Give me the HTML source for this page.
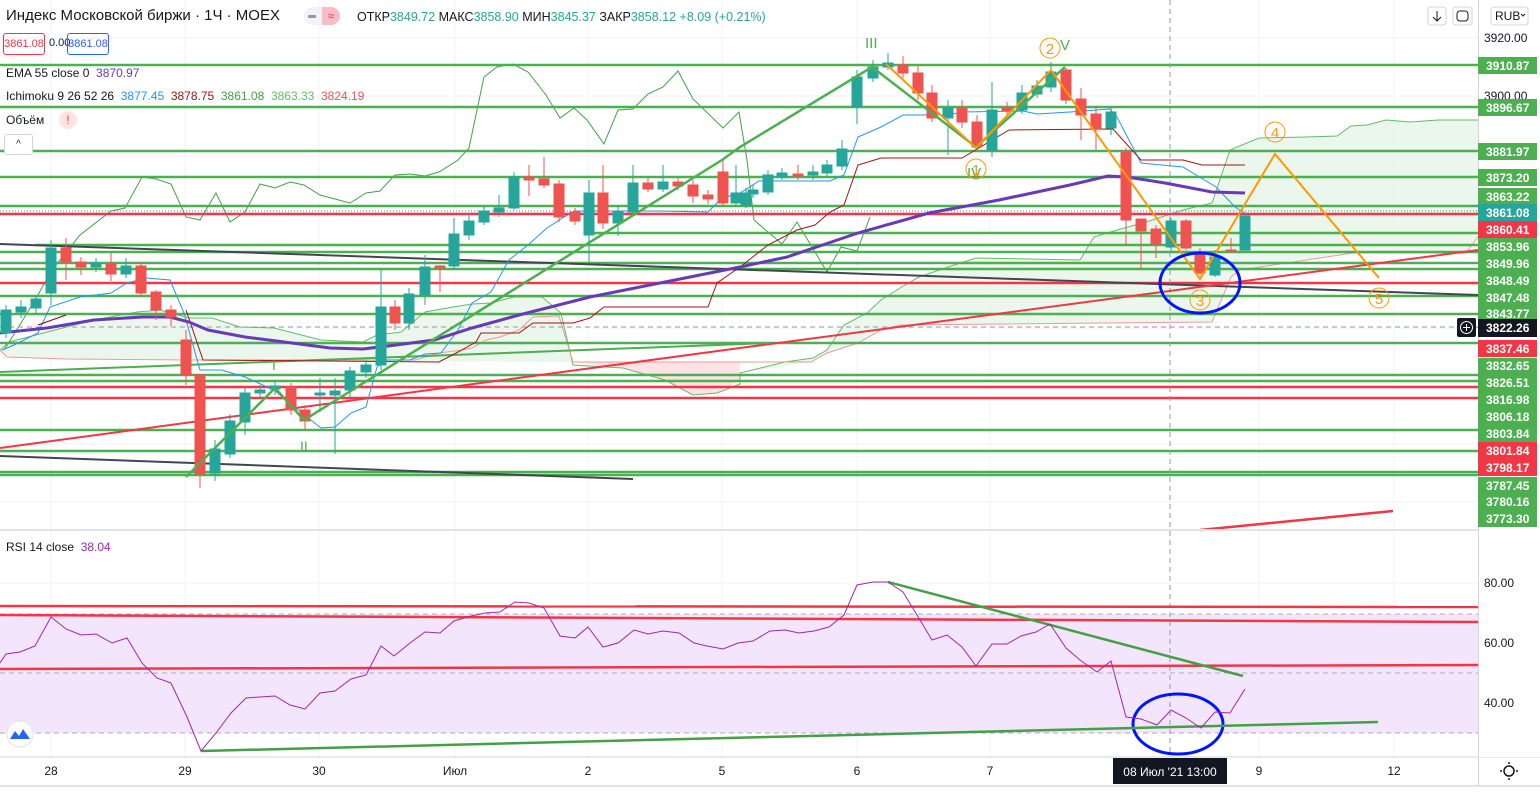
<!DOCTYPE html>
<html><head><meta charset="utf-8"><style>
body{margin:0;background:#fff;width:1540px;height:794px;overflow:hidden;font-family:"Liberation Sans",sans-serif}
svg{position:absolute;left:0;top:0}
.t{font-family:"Liberation Sans",sans-serif}
</style></head><body>
<svg width="1540" height="794" xmlns="http://www.w3.org/2000/svg">
<g stroke="#f0f3fa" stroke-width="1">
<line x1="51" y1="0" x2="51" y2="757"/><line x1="185" y1="0" x2="185" y2="757"/><line x1="319" y1="0" x2="319" y2="757"/><line x1="455" y1="0" x2="455" y2="757"/><line x1="588" y1="0" x2="588" y2="757"/><line x1="722" y1="0" x2="722" y2="757"/><line x1="857" y1="0" x2="857" y2="757"/><line x1="990" y1="0" x2="990" y2="757"/><line x1="1259" y1="0" x2="1259" y2="757"/><line x1="1394" y1="0" x2="1394" y2="757"/>
<line x1="0" y1="38" x2="1478" y2="38"/><line x1="0" y1="96" x2="1478" y2="96"/><line x1="0" y1="154" x2="1478" y2="154"/><line x1="0" y1="212" x2="1478" y2="212"/><line x1="0" y1="270" x2="1478" y2="270"/><line x1="0" y1="328" x2="1478" y2="328"/><line x1="0" y1="386" x2="1478" y2="386"/><line x1="0" y1="444" x2="1478" y2="444"/><line x1="0" y1="502" x2="1478" y2="502"/>
<line x1="0" y1="583" x2="1478" y2="583"/><line x1="0" y1="643" x2="1478" y2="643"/><line x1="0" y1="703" x2="1478" y2="703"/>
</g>
<rect x="0" y="614" width="1478" height="119" fill="#f3e6fc"/>
<g stroke="#b5a8bd" stroke-dasharray="5,4" stroke-width="1"><line x1="0" y1="614" x2="1478" y2="614"/><line x1="0" y1="673" x2="1478" y2="673"/><line x1="0" y1="733" x2="1478" y2="733"/></g>
<polygon fill="#e8f5e9" fill-opacity="0.85" points="0,350 9,342 47,332 94,320 137,312 160,310 189,318 212,318 240,327 274,328 321,340 363,342 377,335 401,332 425,312 453,307 472,304 491,303 514,297 542,297 561,313 573,362 189,360 66,359 7,357"/>
<polygon fill="#fde3e4" points="573,362 623,368 665,380 693,395 717,393 740,380 740,362"/>
<polygon fill="#e8f5e9" fill-opacity="0.85" points="740,373 785,362 813,358 827,350 844,325 867,313 881,300 900,288 919,277 948,267 976,258 1080,260 1094,237 1117,230 1146,222 1183,210 1212,203 1230,150 1259,138 1306,137 1337,136 1351,126 1367,125 1386,120 1410,122 1438,120 1478,120 1478,237 1466,253 1353,253 1240,270 1231,277 1212,322 900,325 881,330 858,343 827,353 811,362"/>
<polyline fill="none" stroke="#66bb6a" stroke-width="1" points="0,350 9,342 47,332 94,320 137,312 160,310 189,318 212,318 240,327 274,328 321,340 363,342 377,335 401,332 425,312 453,307 472,304 491,303 514,297 542,297 561,313 573,365 623,368 665,380 693,395 717,393 740,384 740,373 785,362 813,358 827,350 844,325 867,313 881,300 900,288 919,277 948,267 976,258 1080,260 1094,237 1117,230 1146,222 1183,210 1212,203 1230,150 1259,138 1306,137 1337,136 1351,126 1367,125 1386,120 1410,122 1438,120 1478,120"/>
<polyline fill="none" stroke="#ef9a9a" stroke-width="1" points="0,350 7,357 66,359 189,360 415,360 439,353 462,350 472,348 486,340 500,337 519,330 533,317 559,316 573,362 740,362 811,362 827,353 858,343 881,330 900,325 1212,322 1231,277 1240,270 1353,253 1466,253 1478,237"/>
<polyline fill="none" stroke="#43a047" stroke-width="1" points="4,350 21,323 35,300 52,270 80,235 111,211 125,208 142,177 156,179 171,184 186,217 200,220 216,193 230,222 245,212 260,184 275,188 290,182 304,185 320,195 350,203 366,193 380,191 395,175 410,174 425,176 439,172 458,160 469,148 484,77 497,67 513,64 528,72 546,95 560,118 574,108 587,120 604,144 618,110 633,109 648,94 663,87 678,71 693,99 723,128 739,112 747,160 754,220 782,244 797,222 827,272 841,247 857,251 870,217"/>
<g stroke="#4caf50" stroke-width="2.5">
<line x1="0" y1="65" x2="1478" y2="65"/><line x1="0" y1="107" x2="1478" y2="107"/><line x1="0" y1="151" x2="1478" y2="151"/><line x1="0" y1="177" x2="1478" y2="177"/><line x1="0" y1="206" x2="1478" y2="206"/><line x1="587" y1="233" x2="1478" y2="233"/><line x1="35" y1="245" x2="1478" y2="245"/><line x1="0" y1="252" x2="1478" y2="252"/><line x1="0" y1="263" x2="1478" y2="263"/><line x1="0" y1="269" x2="1478" y2="269"/><line x1="0" y1="296" x2="1478" y2="296"/><line x1="0" y1="314" x2="1478" y2="314"/><line x1="0" y1="343" x2="1478" y2="343"/><line x1="0" y1="375" x2="1478" y2="375"/><line x1="0" y1="381" x2="1478" y2="381"/><line x1="0" y1="430" x2="1478" y2="430"/><line x1="0" y1="451" x2="1478" y2="451"/><line x1="0" y1="472" x2="1478" y2="472"/><line x1="0" y1="475" x2="1478" y2="475"/>
</g>
<g stroke="#f23645" stroke-width="2.5">
<line x1="0" y1="214" x2="1478" y2="214"/><line x1="0" y1="283" x2="1478" y2="283"/><line x1="0" y1="387" x2="1478" y2="387"/><line x1="0" y1="398" x2="1478" y2="398"/>
</g>
<line x1="0" y1="211" x2="1478" y2="211" stroke="#26a69a" stroke-dasharray="1,2"/>
<line x1="0" y1="327" x2="1478" y2="327" stroke="#9598a1" stroke-dasharray="5,4"/>
<line x1="1170" y1="0" x2="1170" y2="757" stroke="#9598a1" stroke-dasharray="5,4"/>
<line x1="0" y1="244" x2="1478" y2="295" stroke="#434651" stroke-width="2"/>
<line x1="0" y1="456" x2="633" y2="479" stroke="#434651" stroke-width="2"/>
<polyline fill="none" stroke="#f23645" stroke-width="2" points="0,448 740,348 1478,250"/>
<line x1="0" y1="372" x2="770" y2="343" stroke="#4caf50" stroke-width="2"/>
<polyline fill="none" stroke="#2196f3" stroke-width="1" points="2,350 14,345 38,333 50,307 80,297 111,293 127,283 146,278 170,280 184,313 200,370 222,370 245,377 274,390 292,405 321,428 335,427 351,413 366,407 377,367 387,360 410,360 425,354 441,353 458,330 472,303 491,292 509,260 528,245 547,228 564,217 575,211 660,211 708,212 722,198 740,193 759,181 830,181 844,175 858,137 881,127 903,115 948,115 962,112 1023,111 1037,114 1070,112 1110,109 1117,117 1141,163 1183,167 1216,187 1235,207 1245,213"/>
<polyline fill="none" stroke="#8b0000" stroke-width="1" points="38,325 66,315"/>
<polyline fill="none" stroke="#a31515" stroke-width="1" points="186,310 203,360 439,362 458,352 476,342 481,333 519,333 533,323 573,323 590,318 604,307 708,307 717,283 740,267 768,245 797,230 815,225 830,212 844,205 858,165 881,158 962,158 1009,130 1113,129 1141,160 1183,160 1202,165 1245,165"/>
<polyline fill="none" stroke="#673ab7" stroke-width="3" points="0,333 47,328 94,320 142,317 170,317 189,322 208,330 245,337 292,343 330,348 363,349 396,345 434,340 472,328 519,315 590,297 660,283 740,267 787,257 858,233 929,213 999,200 1070,185 1108,176 1127,177 1165,183 1212,192 1245,193"/>
<g stroke-width="1">
<g stroke="#26a69a" fill="#26a69a">
<line x1="6" y1="305" x2="6" y2="338"/><rect x="1" y="310" width="10" height="23"/>
<line x1="21" y1="300" x2="21" y2="318"/><rect x="16" y="307" width="10" height="5"/>
<line x1="36" y1="295" x2="36" y2="313"/><rect x="31" y="299" width="10" height="9"/>
<line x1="51" y1="240" x2="51" y2="305"/><rect x="46" y="248" width="10" height="45"/>
<line x1="96" y1="258" x2="96" y2="272"/><rect x="91" y="263" width="10" height="4"/>
<line x1="126" y1="258" x2="126" y2="278"/><rect x="121" y="266" width="10" height="8"/>
<line x1="215" y1="440" x2="215" y2="481"/><rect x="210" y="449" width="10" height="24"/>
<line x1="230" y1="414" x2="230" y2="458"/><rect x="225" y="421" width="10" height="33"/>
<line x1="245" y1="388" x2="245" y2="435"/><rect x="240" y="393" width="10" height="29"/>
<line x1="260" y1="385" x2="260" y2="398"/><rect x="255" y="390" width="10" height="3"/>
<line x1="275" y1="380" x2="275" y2="395"/><rect x="270" y="386" width="10" height="3"/>
<line x1="320" y1="378" x2="320" y2="412"/><rect x="315" y="393" width="10" height="2"/>
<line x1="335" y1="378" x2="335" y2="454"/><rect x="330" y="391" width="10" height="4"/>
<line x1="350" y1="367" x2="350" y2="398"/><rect x="345" y="371" width="10" height="19"/>
<line x1="366" y1="360" x2="366" y2="378"/><rect x="361" y="365" width="10" height="7"/>
<line x1="381" y1="270" x2="381" y2="370"/><rect x="376" y="307" width="10" height="58"/>
<line x1="409" y1="288" x2="409" y2="330"/><rect x="404" y="294" width="10" height="29"/>
<line x1="425" y1="255" x2="425" y2="305"/><rect x="420" y="267" width="10" height="28"/>
<line x1="454" y1="218" x2="454" y2="270"/><rect x="449" y="234" width="10" height="32"/>
<line x1="469" y1="214" x2="469" y2="240"/><rect x="464" y="221" width="10" height="14"/>
<line x1="484" y1="205" x2="484" y2="225"/><rect x="479" y="211" width="10" height="11"/>
<line x1="499" y1="195" x2="499" y2="217"/><rect x="494" y="208" width="10" height="4"/>
<line x1="514" y1="172" x2="514" y2="210"/><rect x="509" y="177" width="10" height="31"/>
<line x1="589" y1="180" x2="589" y2="262"/><rect x="584" y="193" width="10" height="42"/>
<line x1="618" y1="205" x2="618" y2="236"/><rect x="613" y="211" width="10" height="12"/>
<line x1="633" y1="165" x2="633" y2="215"/><rect x="628" y="183" width="10" height="29"/>
<line x1="663" y1="165" x2="663" y2="192"/><rect x="658" y="182" width="10" height="7"/>
<line x1="736" y1="165" x2="736" y2="206"/><rect x="731" y="193" width="10" height="10"/>
<line x1="746" y1="188" x2="746" y2="208"/><rect x="741" y="193" width="10" height="12"/>
<line x1="753" y1="185" x2="753" y2="198"/><rect x="748" y="190" width="10" height="4"/>
<line x1="768" y1="170" x2="768" y2="195"/><rect x="763" y="175" width="10" height="17"/>
<line x1="782" y1="168" x2="782" y2="180"/><rect x="777" y="173" width="10" height="4"/>
<line x1="813" y1="165" x2="813" y2="180"/><rect x="808" y="172" width="10" height="3"/>
<line x1="827" y1="160" x2="827" y2="176"/><rect x="822" y="165" width="10" height="8"/>
<line x1="842" y1="140" x2="842" y2="170"/><rect x="837" y="149" width="10" height="17"/>
<line x1="857" y1="70" x2="857" y2="124"/><rect x="852" y="77" width="10" height="30"/>
<line x1="873" y1="60" x2="873" y2="82"/><rect x="868" y="67" width="10" height="11"/>
<line x1="888" y1="53" x2="888" y2="70"/><rect x="883" y="63" width="10" height="4"/>
<line x1="948" y1="100" x2="948" y2="155"/><rect x="943" y="108" width="10" height="10"/>
<line x1="992" y1="82" x2="992" y2="157"/><rect x="987" y="110" width="10" height="40"/>
<line x1="1022" y1="85" x2="1022" y2="114"/><rect x="1017" y="93" width="10" height="17"/>
<line x1="1037" y1="80" x2="1037" y2="98"/><rect x="1032" y="86" width="10" height="8"/>
<line x1="1051" y1="62" x2="1051" y2="92"/><rect x="1046" y="72" width="10" height="15"/>
<line x1="1111" y1="106" x2="1111" y2="135"/><rect x="1106" y="112" width="10" height="16"/>
<line x1="1171" y1="218" x2="1171" y2="252"/><rect x="1166" y="221" width="10" height="26"/>
<line x1="1215" y1="250" x2="1215" y2="277"/><rect x="1210" y="257" width="10" height="18"/>
<line x1="1245" y1="214" x2="1245" y2="252"/><rect x="1240" y="216" width="10" height="34"/>
</g>
<g stroke="#ef5350" fill="#ef5350">
<line x1="66" y1="238" x2="66" y2="280"/><rect x="61" y="248" width="10" height="14"/>
<line x1="81" y1="257" x2="81" y2="275"/><rect x="76" y="262" width="10" height="5"/>
<line x1="111" y1="253" x2="111" y2="281"/><rect x="106" y="264" width="10" height="10"/>
<line x1="141" y1="262" x2="141" y2="296"/><rect x="136" y="266" width="10" height="27"/>
<line x1="156" y1="290" x2="156" y2="320"/><rect x="151" y="292" width="10" height="18"/>
<line x1="171" y1="305" x2="171" y2="326"/><rect x="166" y="310" width="10" height="7"/>
<line x1="186" y1="330" x2="186" y2="385"/><rect x="181" y="340" width="10" height="35"/>
<line x1="200" y1="375" x2="200" y2="488"/><rect x="195" y="375" width="10" height="99"/>
<line x1="291" y1="383" x2="291" y2="415"/><rect x="286" y="387" width="10" height="23"/>
<line x1="305" y1="405" x2="305" y2="430"/><rect x="300" y="410" width="10" height="11"/>
<line x1="395" y1="300" x2="395" y2="330"/><rect x="390" y="307" width="10" height="16"/>
<line x1="440" y1="265" x2="440" y2="292"/><rect x="435" y="266" width="10" height="2"/>
<line x1="529" y1="165" x2="529" y2="196"/><rect x="524" y="177" width="10" height="3"/>
<line x1="544" y1="157" x2="544" y2="188"/><rect x="539" y="179" width="10" height="6"/>
<line x1="559" y1="180" x2="559" y2="222"/><rect x="554" y="184" width="10" height="33"/>
<line x1="575" y1="208" x2="575" y2="225"/><rect x="570" y="212" width="10" height="9"/>
<line x1="603" y1="165" x2="603" y2="229"/><rect x="598" y="193" width="10" height="30"/>
<line x1="648" y1="178" x2="648" y2="192"/><rect x="643" y="183" width="10" height="6"/>
<line x1="678" y1="178" x2="678" y2="190"/><rect x="673" y="182" width="10" height="4"/>
<line x1="693" y1="180" x2="693" y2="203"/><rect x="688" y="185" width="10" height="11"/>
<line x1="708" y1="190" x2="708" y2="204"/><rect x="703" y="195" width="10" height="4"/>
<line x1="723" y1="160" x2="723" y2="206"/><rect x="718" y="172" width="10" height="31"/>
<line x1="798" y1="165" x2="798" y2="180"/><rect x="793" y="174" width="10" height="2"/>
<line x1="903" y1="56" x2="903" y2="78"/><rect x="898" y="65" width="10" height="8"/>
<line x1="918" y1="66" x2="918" y2="100"/><rect x="913" y="73" width="10" height="20"/>
<line x1="932" y1="85" x2="932" y2="122"/><rect x="927" y="93" width="10" height="25"/>
<line x1="962" y1="100" x2="962" y2="128"/><rect x="957" y="108" width="10" height="14"/>
<line x1="977" y1="115" x2="977" y2="150"/><rect x="972" y="122" width="10" height="25"/>
<line x1="1007" y1="102" x2="1007" y2="115"/><rect x="1002" y="108" width="10" height="3"/>
<line x1="1066" y1="68" x2="1066" y2="104"/><rect x="1061" y="70" width="10" height="30"/>
<line x1="1081" y1="88" x2="1081" y2="140"/><rect x="1076" y="99" width="10" height="16"/>
<line x1="1096" y1="107" x2="1096" y2="150"/><rect x="1091" y="114" width="10" height="15"/>
<line x1="1126" y1="148" x2="1126" y2="246"/><rect x="1121" y="152" width="10" height="68"/>
<line x1="1141" y1="219" x2="1141" y2="268"/><rect x="1136" y="219" width="10" height="12"/>
<line x1="1156" y1="225" x2="1156" y2="258"/><rect x="1151" y="229" width="10" height="15"/>
<line x1="1186" y1="219" x2="1186" y2="250"/><rect x="1181" y="221" width="10" height="27"/>
<line x1="1200" y1="248" x2="1200" y2="275"/><rect x="1195" y="254" width="10" height="19"/>
<line x1="1231" y1="238" x2="1231" y2="252"/><rect x="1226" y="250" width="10" height="1"/>
</g>
</g>
<polyline fill="none" stroke="#4caf50" stroke-width="2.5" points="186,477 275,388 304,420 722,160 740,147 872,67 976,147 1065,67"/>
<polyline fill="none" stroke="#ff9800" stroke-width="2" points="886,64 976,148 1051,70 1200,279 1275,154 1379,278"/>
<line x1="1200" y1="530" x2="1393" y2="511" stroke="#f23645" stroke-width="2.5"/>
<g class="t" font-size="15" fill="#4caf50"><text x="865" y="48">III</text><text x="272" y="370" font-size="14">I</text><text x="300" y="451" font-size="14">II</text><text x="967" y="178">IV</text><text x="1060" y="50">V</text></g>
<g fill="none" stroke="#ff9800" stroke-width="1"><circle cx="976" cy="169" r="10"/><circle cx="1050" cy="48" r="10"/><circle cx="1275" cy="132" r="10"/><circle cx="1200" cy="300" r="10"/><circle cx="1379" cy="298" r="10"/></g>
<g class="t" font-size="15" fill="#ff9800" text-anchor="middle"><text x="976" y="175">1</text><text x="1050" y="54">2</text><text x="1275" y="138">4</text><text x="1200" y="306">3</text><text x="1379" y="304">5</text></g>
<ellipse cx="1200" cy="283" rx="40" ry="30" fill="none" stroke="#0015ff" stroke-width="3"/>
<ellipse cx="1178" cy="724" rx="45" ry="30" fill="none" stroke="#0015ff" stroke-width="3"/>
<line x1="0" y1="606" x2="1478" y2="607" stroke="#f23645" stroke-width="2.5"/>
<line x1="0" y1="615" x2="1478" y2="622" stroke="#f23645" stroke-width="2.5"/>
<line x1="0" y1="669" x2="1478" y2="665" stroke="#f23645" stroke-width="2.5"/>
<line x1="201" y1="751" x2="1378" y2="722" stroke="#43a047" stroke-width="2.5"/>
<line x1="888" y1="582" x2="1243" y2="676" stroke="#43a047" stroke-width="2.5"/>
<polyline fill="none" stroke="#9c27b0" stroke-width="1" points="0,663 6,654 20,652 35,646 51,617 66,629 81,635 96,634 112,643 127,638 142,663 157,678 171,683 187,717 201,751 216,733 231,713 246,698 260,697 275,696 290,705 305,709 320,693 335,691 351,679 366,675 381,646 394,656 410,643 425,632 440,633 454,621 471,616 485,613 500,612 515,602 529,603 544,608 560,636 575,638 588,627 603,647 618,643 634,630 648,634 663,631 679,633 694,643 707,646 723,649 738,643 753,641 770,631 785,630 799,633 814,631 829,627 844,615 857,585 873,582 888,582 903,592 917,615 932,640 947,635 962,647 976,666 992,644 1007,644 1021,636 1036,632 1050,624 1066,648 1080,660 1097,672 1111,661 1126,717 1141,719 1157,725 1171,710 1186,718 1201,728 1215,712 1230,713 1245,689"/>
<line x1="0" y1="530" x2="1540" y2="530" stroke="#e0e3eb" stroke-width="2"/>
<line x1="0" y1="757" x2="1540" y2="757" stroke="#d1d4dc"/>
<line x1="0" y1="786" x2="1540" y2="786" stroke="#e0e3eb" stroke-width="2"/>
<line x1="1478.5" y1="0" x2="1478.5" y2="786" stroke="#d1d4dc"/>
<rect x="1479" y="0" width="61" height="757" fill="#fff"/>
<g class="t" font-size="12" fill="#131722"><text x="1484" y="42">3920.00</text><text x="1484" y="100">3900.00</text><text x="1484" y="587">80.00</text><text x="1484" y="647">60.00</text><text x="1484" y="707">40.00</text></g>
<g fill="#4caf50">
<rect x="1478" y="57" width="59" height="17"/><rect x="1478" y="99" width="59" height="17"/><rect x="1478" y="143" width="59" height="17"/><rect x="1478" y="169" width="59" height="17"/><rect x="1478" y="188" width="59" height="17"/><rect x="1478" y="238" width="59" height="17"/><rect x="1478" y="255" width="59" height="17"/><rect x="1478" y="272" width="59" height="17"/><rect x="1478" y="289" width="59" height="17"/><rect x="1478" y="306" width="59" height="14"/><rect x="1478" y="358" width="59" height="17"/><rect x="1478" y="375" width="59" height="17"/><rect x="1478" y="391" width="59" height="17"/><rect x="1478" y="408" width="59" height="17"/><rect x="1478" y="425" width="59" height="17"/><rect x="1478" y="477" width="59" height="17"/><rect x="1478" y="494" width="59" height="17"/><rect x="1478" y="510" width="59" height="17"/>
</g>
<rect x="1478" y="204" width="59" height="17" fill="#26a69a"/>
<g fill="#f23645"><rect x="1478" y="221" width="59" height="17"/><rect x="1478" y="340" width="59" height="17"/><rect x="1478" y="442" width="59" height="17"/><rect x="1478" y="459" width="59" height="17"/></g>
<rect x="1478" y="319" width="59" height="18" fill="#131722"/>
<rect x="1457" y="318" width="19" height="19" rx="2" fill="#131722"/>
<circle cx="1466.5" cy="327.5" r="6" fill="none" stroke="#fff"/><path d="M1463 327.5h7M1466.5 324v7" stroke="#fff"/>
<g class="t" font-size="12" font-weight="bold" fill="#fff">
<text x="1486" y="70">3910.87</text><text x="1486" y="112">3896.67</text><text x="1486" y="156">3881.97</text><text x="1486" y="182">3873.20</text><text x="1486" y="201">3863.22</text><text x="1486" y="217">3861.08</text><text x="1486" y="234">3860.41</text><text x="1486" y="251">3853.96</text><text x="1486" y="268">3849.96</text><text x="1486" y="285">3848.49</text><text x="1486" y="302">3847.48</text><text x="1486" y="318">3843.77</text><text x="1486" y="332">3822.26</text><text x="1486" y="353">3837.46</text><text x="1486" y="370">3832.65</text><text x="1486" y="387">3826.51</text><text x="1486" y="404">3816.98</text><text x="1486" y="421">3806.18</text><text x="1486" y="438">3803.84</text><text x="1486" y="455">3801.84</text><text x="1486" y="472">3798.17</text><text x="1486" y="490">3787.45</text><text x="1486" y="506">3780.16</text><text x="1486" y="523">3773.30</text>
</g>
<g class="t" font-size="12" fill="#131722" text-anchor="middle">
<text x="51" y="775">28</text><text x="185" y="775">29</text><text x="319" y="775">30</text><text x="455" y="775">Июл</text><text x="588" y="775">2</text><text x="722" y="775">5</text><text x="857" y="775">6</text><text x="990" y="775">7</text><text x="1259" y="775">9</text><text x="1394" y="775">12</text>
</g>
<rect x="1113" y="758" width="114" height="26" fill="#131722"/>
<text x="1170" y="776" class="t" font-size="12" fill="#fff" text-anchor="middle">08 Июл '21   13:00</text>
<circle cx="1509" cy="771" r="5" fill="none" stroke="#131722" stroke-width="1.5"/>
<g stroke="#131722" stroke-width="1.5"><line x1="1509" y1="762" x2="1509" y2="764"/><line x1="1509" y1="778" x2="1509" y2="780"/><line x1="1500" y1="771" x2="1502" y2="771"/><line x1="1516" y1="771" x2="1518" y2="771"/></g>
<circle cx="20" cy="734" r="13" fill="#fff" stroke="#e0e3eb"/>
<path d="M10 739 L15 731 L19 736 L23 729 L30 739 Z" fill="#2962ff"/>
<rect x="1428" y="7" width="18" height="18" rx="3" fill="#fff" stroke="#d1d4dc"/>
<path d="M1437 11v10M1433 17l4 4 4-4" stroke="#131722" fill="none"/>
<rect x="1453" y="7" width="19" height="18" rx="3" fill="#fff" stroke="#d1d4dc"/>
<rect x="1457" y="11" width="11" height="10" rx="3" fill="none" stroke="#131722"/>
<rect x="1491" y="7" width="37" height="18" rx="3" fill="#fff" stroke="#d1d4dc"/>
<text x="1495" y="20" class="t" font-size="12" fill="#131722">RUB</text>
<path d="M1521 14l2 2 2-2" stroke="#131722" fill="none"/>
</svg>
<div style="position:absolute;left:6px;top:7px;font-size:15px;color:#131722;white-space:nowrap">Индекс Московской биржи · 1Ч · MOEX</div>
<div style="position:absolute;left:304px;top:7px;width:36px;height:18px;border-radius:9px;background:#f0f3fa"></div>
<div style="position:absolute;left:322px;top:7px;width:18px;height:18px;border-radius:0 9px 9px 0;background:#f7bcc8;color:#f23645;font-size:12px;text-align:center;line-height:18px">≈</div>
<div style="position:absolute;left:308px;top:15px;width:8px;height:3px;background:#9598a1;border-radius:1px"></div>
<div style="position:absolute;left:357px;top:10px;font-size:12.5px;color:#131722;white-space:nowrap">ОТКР<span style="color:#26a69a">3849.72</span> МАКС<span style="color:#26a69a">3858.90</span> МИН<span style="color:#26a69a">3845.37</span> ЗАКР<span style="color:#26a69a">3858.12</span> <span style="color:#26a69a">+8.09 (+0.21%)</span></div>
<div style="position:absolute;left:3px;top:33px;width:40px;height:20px;border:1px solid #f23645;border-radius:3px;color:#f23645;font-size:11px;line-height:20px;text-align:center">3861.08</div>
<div style="position:absolute;left:49px;top:37px;font-size:11px;color:#131722">0.00</div>
<div style="position:absolute;left:67px;top:33px;width:40px;height:20px;border:1px solid #2962ff;border-radius:3px;color:#2962ff;font-size:11px;line-height:20px;text-align:center">3861.08</div>
<div style="position:absolute;left:6px;top:66px;font-size:12px;color:#131722;white-space:nowrap">EMA 55 close 0&nbsp; <span style="color:#673ab7">3870.97</span></div>
<div style="position:absolute;left:6px;top:89px;font-size:12px;color:#131722;white-space:nowrap">Ichimoku 9 26 52 26&nbsp; <span style="color:#2196f3">3877.45</span>&nbsp; <span style="color:#a31515">3878.75</span>&nbsp; <span style="color:#43a047">3861.08</span>&nbsp; <span style="color:#66bb6a">3863.33</span>&nbsp; <span style="color:#ef5350">3824.19</span></div>
<div style="position:absolute;left:6px;top:113px;font-size:12px;color:#131722">Объём</div>
<div style="position:absolute;left:59px;top:111px;width:18px;height:18px;border-radius:9px;background:#fde3e4;color:#f23645;font-size:12px;text-align:center;line-height:18px">!</div>
<div style="position:absolute;left:4px;top:134px;width:27px;height:19px;border:1px solid #d1d4dc;border-radius:3px;background:#fff;font-size:10px;text-align:center;line-height:19px;color:#131722">^</div>
<div style="position:absolute;left:6px;top:540px;font-size:12px;color:#131722;white-space:nowrap">RSI 14 close&nbsp; <span style="color:#9c27b0">38.04</span></div>
</body></html>
